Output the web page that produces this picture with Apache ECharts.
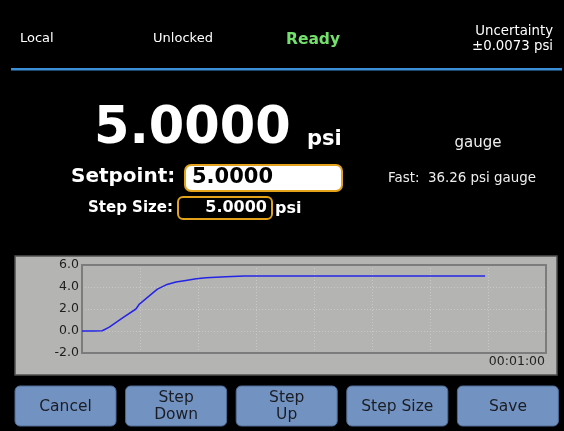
<!DOCTYPE html>
<html>
<head>
<meta charset="utf-8">
<title>Setpoint</title>
<script src="https://cdn.jsdelivr.net/npm/echarts@6/dist/echarts.min.js"></script>
<style>
  html, body { margin: 0; padding: 0; background: #000; }
  #main { width: 564px; height: 431px; }
</style>
</head>
<body>
<div id="main"></div>
<script>
// Pressure trace (time in s, pressure in psi)
const timeSec = [0, 2, 3.5, 4.7, 7.0, 9.3, 9.9, 11.6, 13.0, 14.5, 16.2, 17.9, 19.7, 21.4, 24.8, 28, 35, 45, 55, 65, 69.5];
const pressure = [0, 0, 0.02, 0.35, 1.2, 2.0, 2.45, 3.2, 3.8, 4.2, 4.45, 4.6, 4.75, 4.85, 4.93, 4.99, 5.0, 5.0, 5.0, 5.0, 5.0];

// Axis ticks
const yTicks = [-2, 0, 2, 4, 6];
const timeSpanLabel = "00:01:00";

// Header / readouts
const headerLeft = ["Local", "Unlocked"];
const statusText = "Ready";
const uncertaintyLines = ["Uncertainty", "\u00b10.0073 psi"];
const reading = "5.0000";
const unit = "psi";
const setpoint = "5.0000";
const stepSize = "5.0000";
const modeText = "gauge";
const fastText = "Fast:  36.26 psi gauge";
const buttonLabels = ["Cancel", "Step\nDown", "Step\nUp", "Step Size", "Save"];

const FONT = "DejaVu Sans";

const txt = (x, y, text, size, opts = {}) => ({
  type: "text",
  x: x,
  y: y,
  z: 10,
  style: Object.assign(
    {
      text: text,
      fill: "#fff",
      font: `${opts.bold ? "bold " : ""}${size}px "${FONT}"`,
      align: "left",
      verticalAlign: "middle",
    },
    opts.style || {}
  ),
});

// buttons along the bottom
const buttons = buttonLabels.map((label, i) => {
  const bx = 15 + i * 110.6;
  return {
    type: "group",
    x: bx,
    y: 386,
    children: [
      {
        type: "rect",
        shape: { x: 0, y: 0, width: 101, height: 40, r: 5 },
        style: { fill: "#7293c1", stroke: "#4f6b94", lineWidth: 1 },
      },
      {
        type: "text",
        x: 50.5,
        y: 20.5,
        style: {
          text: label,
          fill: "#1b1d24",
          font: `15.5px "${FONT}"`,
          align: "center",
          verticalAlign: "middle",
          lineHeight: 17,
        },
      },
    ],
  };
});

const graphics = [
  // header
  txt(20, 39, headerLeft[0], 13),
  txt(183, 39, headerLeft[1], 13, { style: { align: "center" } }),
  txt(313, 40, statusText, 15.5, { bold: true, style: { align: "center", fill: "#74e06c" } }),
  txt(553, 32, uncertaintyLines[0], 13.3, { style: { align: "right" } }),
  txt(553, 47, uncertaintyLines[1], 13.3, { style: { align: "right" } }),
  {
    type: "rect",
    shape: { x: 11, y: 68, width: 551, height: 2.5 },
    style: { fill: "#3a8fd6" },
  },

  // main reading
  txt(94, 130, reading, 51, { bold: true }),
  txt(307, 140, unit, 21, { bold: true }),

  // setpoint row
  {
    type: "rect",
    shape: { x: 185, y: 165, width: 157, height: 26, r: 6 },
    style: { fill: "#fff", stroke: "#e3a21a", lineWidth: 2 },
  },
  txt(71, 177, "Setpoint:", 20, { bold: true }),
  txt(192, 178, setpoint, 21, { bold: true, style: { fill: "#000" } }),

  // step size row
  {
    type: "rect",
    shape: { x: 178, y: 197, width: 94, height: 22, r: 5 },
    style: { fill: "#000", stroke: "#e3a21a", lineWidth: 2 },
  },
  txt(88, 208, "Step Size:", 15, { bold: true }),
  txt(267, 208, stepSize, 16, { bold: true, style: { align: "right" } }),
  txt(275, 209, unit, 16, { bold: true }),

  // right readouts
  txt(478, 143, modeText, 15, { style: { align: "center", fill: "#eee" } }),
  txt(388, 179, fastText, 13.4, { style: { fill: "#eee" } }),

  // chart panel
  {
    type: "rect",
    z: -10,
    shape: { x: 15, y: 256, width: 542, height: 119 },
    style: { fill: "#b4b4b2", stroke: "#505050", lineWidth: 1.5 },
  },
  txt(545, 362, timeSpanLabel, 12.5, { style: { align: "right", fill: "#222" } }),
].concat(buttons);

const chart = echarts.init(document.getElementById("main"));
chart.setOption({
  backgroundColor: "#000",
  animation: false,
  graphic: { elements: graphics },
  grid: {
    left: 82,
    right: 18,
    top: 265,
    bottom: 78,
    show: true,
    borderColor: "#7c7c7c",
    borderWidth: 2,
    backgroundColor: "transparent",
    z: 1,
  },
  xAxis: {
    type: "value",
    min: 0,
    max: 80,
    interval: 10,
    axisLine: { show: false },
    axisTick: { show: false },
    axisLabel: { show: false },
    splitLine: { show: true, lineStyle: { type: [1, 2], color: "#c9c9c9", width: 1 } },
  },
  yAxis: {
    type: "value",
    min: yTicks[0],
    max: yTicks[yTicks.length - 1],
    interval: 2,
    axisLine: { show: false },
    axisTick: { show: false },
    axisLabel: {
      color: "#1e1e1e",
      fontFamily: FONT,
      fontSize: 12.5,
      margin: 3,
      formatter: (v) => v.toFixed(1),
    },
    splitLine: { show: true, lineStyle: { type: [1, 2], color: "#c9c9c9", width: 1 } },
  },
  series: [
    {
      type: "line",
      data: timeSec.map((t, i) => [t, pressure[i]]),
      showSymbol: false,
      lineStyle: { color: "#2424e6", width: 1.5 },
      z: 5,
    },
  ],
});
</script>
</body>
</html>
